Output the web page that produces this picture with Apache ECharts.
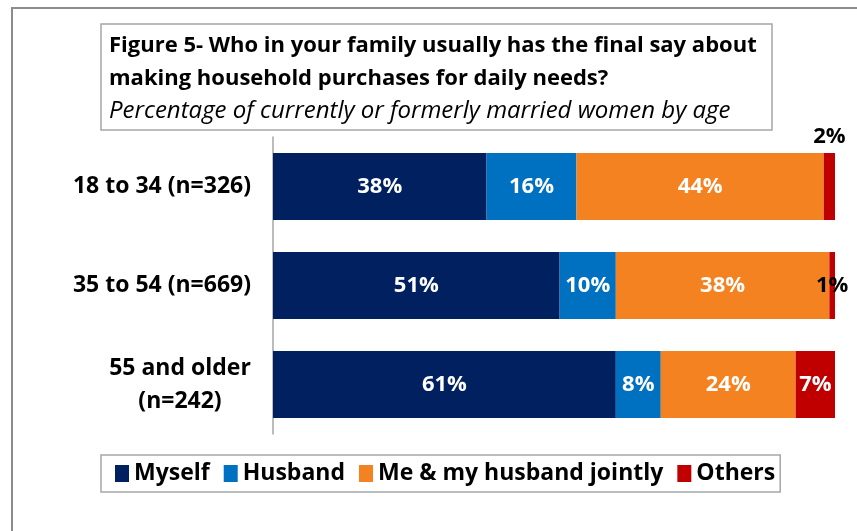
<!DOCTYPE html>
<html>
<head>
<meta charset="utf-8">
<script src="https://cdn.jsdelivr.net/npm/echarts@6/dist/echarts.min.js"></script>
<style>
html,body{margin:0;padding:0;background:#fff;}
#chart{width:857px;height:531px;}
</style>
</head>
<body>
<div id="chart"></div>
<script>
var categories = ['18 to 34 (n=326)', '35 to 54 (n=669)', '55 and older\n(n=242)'];
var myself = [38, 51, 61];
var husband = [16, 10, 8];
var jointly = [44, 38, 24];
var others = [2, 1, 7];

var chart = echarts.init(document.getElementById('chart'));
var font = 'Open Sans';

function lbl(color) {
  return {
    show: true,
    position: 'inside',
    color: color,
    fontFamily: font,
    fontWeight: 'bold',
    fontSize: 22,
    formatter: '{c}%'
  };
}

var othersData = others.map(function (v, i) {
  if (i == 0) return { value: v, label: { position: 'top', color: '#000', distance: 5 } };
  if (i == 1) return { value: v, label: { color: '#000' } };
  return v;
});

option = {
  animation: false,
  title: {
    text: 'Figure 5- Who in your family usually has the final say about\nmaking household purchases for daily needs?',
    subtext: 'Percentage of currently or formerly married women by age',
    left: 109,
    top: 29,
    padding: 0,
    itemGap: 1,
    textStyle: { fontFamily: font, fontWeight: 'bold', fontSize: 22, color: '#000', lineHeight: 33 },
    subtextStyle: { fontFamily: font, fontStyle: 'italic', fontSize: 24, color: '#000', lineHeight: 30 }
  },
  graphic: [
    { type: 'rect', shape: { x: 12, y: 8, width: 900, height: 600 }, style: { fill: 'none', stroke: '#8c8c8c', lineWidth: 2 }, silent: true },
    { type: 'rect', shape: { x: 101, y: 24, width: 671, height: 106 }, style: { fill: 'none', stroke: '#a6a6a6', lineWidth: 1.5 }, silent: true }
  ],
  legend: {
    top: 455,
    left: 101,
    itemWidth: 14,
    itemHeight: 17,
    itemGap: 14,
    icon: 'rect',
    borderColor: '#a6a6a6',
    borderWidth: 1.5,
    padding: [7, 5, 7, 14],
    textStyle: { fontFamily: font, fontWeight: 'bold', fontSize: 23, color: '#000' },
    data: ['Myself', 'Husband', 'Me & my husband jointly', 'Others']
  },
  grid: { left: 273, right: 22, top: 137, bottom: 97 },
  xAxis: { type: 'value', min: 0, max: 100, show: false },
  yAxis: {
    type: 'category',
    inverse: true,
    data: categories,
    axisLine: { lineStyle: { color: '#a6a6a6', width: 1.5 } },
    axisTick: { show: false },
    axisLabel: {
      fontFamily: font, fontWeight: 'bold', fontSize: 23, color: '#000', margin: 22,
      formatter: function (v) {
        if (v.indexOf('\n') < 0) return v;
        return v.split('\n').map(function (s) { return '{c|' + s + '}'; }).join('\n');
      },
      rich: {
        c: { width: 142, align: 'center', fontFamily: font, fontWeight: 'bold', fontSize: 23, color: '#000', lineHeight: 33 }
      }
    }
  },
  series: [
    { name: 'Myself', type: 'bar', stack: 'a', barWidth: 67, data: myself, itemStyle: { color: '#002060' }, label: lbl('#fff') },
    { name: 'Husband', type: 'bar', stack: 'a', data: husband, itemStyle: { color: '#0070C0' }, label: lbl('#fff') },
    { name: 'Me & my husband jointly', type: 'bar', stack: 'a', data: jointly, itemStyle: { color: '#F58220' }, label: lbl('#fff') },
    { name: 'Others', type: 'bar', stack: 'a', data: othersData, itemStyle: { color: '#C00000' }, label: lbl('#fff') }
  ]
};

chart.setOption(option);
</script>
</body>
</html>
